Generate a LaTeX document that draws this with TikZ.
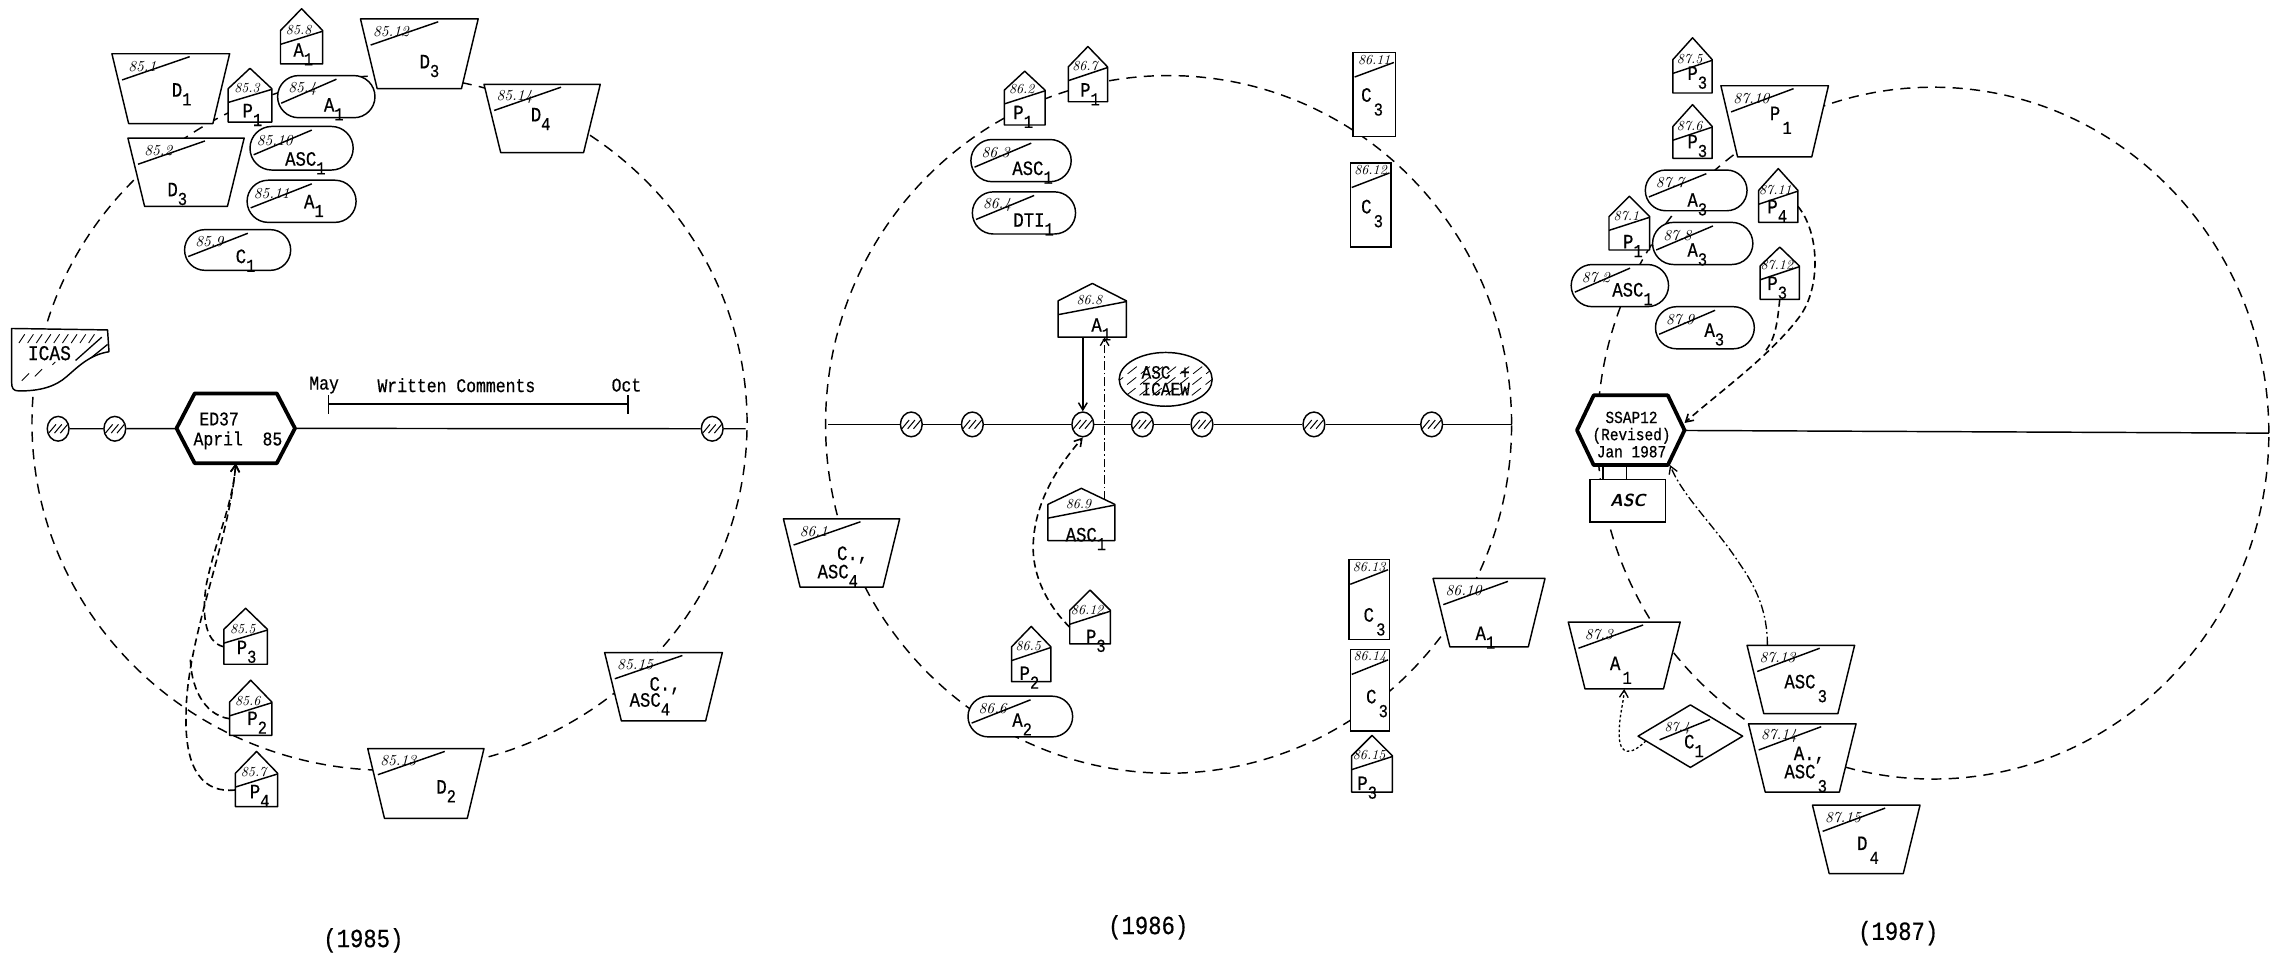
\documentclass[tikz,border=0pt]{standalone}
\usepackage{fontspec}
\setmonofont{Liberation Mono}[FakeStretch=0.85, FakeBold=0.5]
\usetikzlibrary{shapes.geometric,shapes.misc,calc,arrows.meta}
\newcommand\lsub[1]{\raisebox{-6pt}{\fontsize{12.5}{12.5}\selectfont#1}}
\newcommand\dsub[1]{\hspace{1.5pt}\raisebox{-9.5pt}{\fontsize{12.5}{12.5}\selectfont#1}}
\tikzset{
 shp/.style={draw, fill=white, line width=1pt, line join=round},
 abox/.style={draw=none, fill=none, rectangle, inner sep=0pt, outer sep=0pt},
 pillbox/.style={rounded rectangle, draw, fill=white, line width=1pt, inner sep=0pt, outer sep=0pt},
 slash/.style={line width=1pt},
 num/.style={font=\itshape\fontsize{10.5}{10.5}\selectfont, inner sep=0pt},
 snum/.style={font=\itshape\fontsize{9.5}{9.5}\selectfont, inner sep=0pt},
 lab/.style={font=\ttfamily\fontsize{14}{14}\selectfont, inner sep=0pt, anchor=base west},
 tw/.style={font=\ttfamily\fontsize{13.3}{13.8}\selectfont, inner sep=0pt},
 yearlab/.style={font=\ttfamily\fontsize{18}{18}\selectfont, inner sep=0pt},
 ring/.style={line width=1pt, dash pattern=on 7pt off 5pt},
 conn/.style={line width=1pt},
 arrowtip/.style={-{Straight Barb[length=5pt,width=6pt]}},
 flowline/.style={line width=1.1pt, dash pattern=on 5pt off 3pt},
 flow/.style={flowline, arrowtip},
 ddash/.style={line width=0.9pt, dash pattern=on 6pt off 2pt on 1.2pt off 2pt, arrowtip},
 dotflow/.style={line width=0.9pt, dash pattern=on 1.8pt off 1.6pt, arrowtip},
 hexb/.style={draw, fill=white, line width=2.6pt, line join=round},
 hdot/.style={ellipse, draw, fill=white, line width=1pt, minimum width=15pt, minimum height=17pt, inner sep=0pt,
   path picture={\foreach \k in {-4,0,4}{\draw[line width=0.7pt] ($(path picture bounding box.center)+(\k-2.5,3)$) -- ++(5,-6);}}},
}
% name, center, w, h, num, label, label offset
\newcommand\Trap[7]{%
 \node[abox, minimum width=#3pt, minimum height=#4pt] (#1) at (#2) {};
 \filldraw[shp] (#1.north west) -- (#1.north east) -- ([xshift=-11.5pt]#1.south east) -- ([xshift=11.5pt]#1.south west) -- cycle;
 \draw[slash] ($(#1.north west)+(7,18)$) -- ($(#1.north west)+(#3*0.5+13,2)$);
 \node[num] (#1-n) at ($(#1.north west)+(21,8.5)$) {#5};
 \node[lab] (#1-l) at ($(#1.center)+(#7)$) {#6};
}
% name, center, w, h, roof, num, label, label offset
\newcommand\House[8]{%
 \node[abox, minimum width=#3pt, minimum height=#4pt] (#1) at (#2) {};
 \filldraw[shp] (#1.south west) -- (#1.north west) -- ($(#1.north)+(0,-#5)$) -- (#1.north east) -- (#1.south east) -- cycle;
 \draw[slash] ($(#1.north west)+(0,9.5)$) -- ($(#1.north west)+(#3,0.5)$);
 \node[snum] (#1-n) at ($(#1.north west)+(#3*0.5-2,-0.5)$) {#6};
 \node[lab] (#1-l) at ($(#1.center)+(#8)$) {#7};
}
% name, center, w, h, num, label, label offset
\newcommand\Pill[7]{%
 \node[pillbox, minimum width=#3pt, minimum height=#4pt] (#1) at (#2) {};
 \draw[slash] ($(#1.center)+(-#3*0.5+2.5,4.5)$) -- ($(#1.center)+(7,-#4*0.5+2.5)$);
 \node[num] (#1-n) at ($(#1.center)+(-#3*0.5+17,-5.5)$) {#5};
 \node[lab] (#1-l) at ($(#1.center)+(#7)$) {#6};
}
\newcommand\Tall[7]{%
 \node[abox, draw, fill=white, line width=1pt, minimum width=#3pt, minimum height=#4pt] (#1) at (#2) {};
 \draw[slash] ($(#1.north west)+(1,17)$) -- ($(#1.north west)+(#3-1,7)$);
 \node[snum] (#1-n) at ($(#1.north west)+(#3*0.5,5)$) {#5};
 \node[lab] (#1-l) at ($(#1.center)+(#7)$) {#6};
}
% name, center, w, h, pointer depth
\newcommand\Hex[5]{%
 \node[abox, minimum width=#3pt, minimum height=#4pt] (#1) at (#2) {};
 \filldraw[hexb] (#1.west) -- ([xshift=#5pt]#1.north west) -- ([xshift=-#5pt]#1.north east) -- (#1.east) -- ([xshift=-#5pt]#1.south east) -- ([xshift=#5pt]#1.south west) -- cycle;
}
\begin{document}
\begin{tikzpicture}[x=1pt,y=-1pt]
\fill[white] (0,0) rectangle (1568,660);
\useasboundingbox (0,0) rectangle (1568,660);

% ---------- cycles ----------
\draw[ring] (268,291) ellipse [x radius=246pt, y radius=239pt];
\draw[ring] (804,292) ellipse [x radius=236pt, y radius=240pt];
\draw[ring] (1330,298) ellipse [x radius=231pt, y radius=238pt];

% ================= 1985 =================
\fill[white] (8,226) -- (74,227) -- (75,242) .. controls (62,244) and (54,252) .. (46,259) .. controls (38,266) and (28,269) .. (13,269) .. controls (9,269) and (8,267) .. (8,263) -- cycle;
\begin{scope}
 \clip (8,226) -- (74,227) -- (75,242) .. controls (62,244) and (54,252) .. (46,259) .. controls (38,266) and (28,269) .. (13,269) .. controls (9,269) and (8,267) .. (8,263) -- cycle;
 \foreach \x in {13,19,...,61} {\draw[line width=0.6pt] (\x,236) -- ++(4,-6);}
 \draw[line width=0.9pt] (52,248) -- (70,232) (58,250) -- (74,237);
 \draw[line width=0.6pt] (15,262) -- (20,257) (24,259) -- (29,254) (36,251) -- (38,249);
\end{scope}
\draw[line width=1pt, line join=round] (8,226) -- (74,227) -- (75,242) .. controls (62,244) and (54,252) .. (46,259) .. controls (38,266) and (28,269) .. (13,269) .. controls (9,269) and (8,267) .. (8,263) -- cycle;
\node[font=\ttfamily\fontsize{14.5}{14.5}\selectfont, inner sep=0pt] (icas) at (34,243) {ICAS};

\node[hdot] (c11) at (40,295) {};
\node[hdot] (c12) at (79,295) {};
\node[hdot] (c13) at (490,295) {};
\coordinate (r1e) at (513,295);
\Hex{ed37}{162.2,294.7}{81.5}{48}{12.5}
\node[tw, align=left] (ed37-t) at (163.7,296.5) {\hspace*{4pt}ED37\\April\ \ 85};
\draw[conn] (c11) -- (c12) (c12) -- (ed37) (ed37) -- (c13) (c13) -- (r1e);

\coordinate (bl) at (226,278);
\coordinate (br) at (432,278);
\draw[line width=0.9pt] (bl) -- (br) ([yshift=6pt]bl) -- ([yshift=-7pt]bl) ([yshift=6pt]br) -- ([yshift=-7pt]br);
\node[tw] (tmay) at (223,265) {May};
\node[tw] (twc) at (314,265) {Written Comments};
\node[tw] (toct) at (431,265) {Oct};

\Trap{d11}{117.5,61}{81}{48}{85.1}{D\lsub{1}}{0.5,5.5}
\Trap{d112}{288.5,37}{81}{48}{85.12}{D\lsub{3}}{0,10}
\Trap{d414}{373,81.5}{80}{47}{85.14}{D\lsub{4}}{-8,2}
\Trap{d32}{128,118.5}{80}{47}{85.2}{D\lsub{3}}{-13,16.5}
\House{a18}{207.5,32.5}{29}{23}{15}{85.8}{A\lsub{1}}{-5.8,6.5}
\House{p13}{172,72.5}{30}{23}{14}{85.3}{P\lsub{1}}{-5.3,8.2}
\Pill{a14}{224.5,66.5}{67}{29}{85.4}{A\lsub{1}}{-1.8,10.3}
\Pill{asc110}{207.5,102}{71}{30}{85.10}{ASC\lsub{1}}{-11.5,12}
\Pill{a111}{207.5,138.5}{75}{29}{85.11}{A\lsub{1}}{1.5,4.8}
\Pill{c19}{163.5,172}{73}{28}{85.9}{C\lsub{1}}{-1.5,9}

\House{p35}{169,445}{30}{24}{14.5}{85.5}{P\lsub{3}}{-6.3,5}
\House{p26}{172.5,494.5}{29}{23}{15}{85.6}{P\lsub{2}}{-2.5,4.3}
\House{p47}{176.5,543.5}{29}{23}{15}{85.7}{P\lsub{4}}{-4.8,5.7}
\Trap{d213}{293,539}{80}{48}{85.13}{D\lsub{2}}{7,7}
\Trap{ca415}{456.5,472.5}{81}{47}{85.15}{C.,}{-9.8,2.7}
\node[lab] (ca415-l2) at ($(ca415.center)+(-23.5,13.7)$) {ASC\lsub{4}};

\draw[flow] (p47.west) .. controls (140,546) and (127,530) .. (128,492) .. controls (128,440) and (158,372) .. (ed37.south);
\draw[flowline] (p26.west) .. controls (140,492) and (131,472) .. (131,452);
\draw[flow] (p35.west) .. controls (140,442) and (139,420) .. (142,402) .. controls (148,372) and (160,348) .. (ed37.south);

\node[yearlab] (y85) at (250,647) {(1985)};

% ================= 1986 =================
\coordinate (r2s) at (570,292);
\coordinate (r2e) at (1040,292);
\node[hdot] (c21) at (627,292) {};
\node[hdot] (c22) at (669,292) {};
\node[hdot] (c23) at (745,292) {};
\node[hdot] (c24) at (786,292) {};
\node[hdot] (c25) at (827,292) {};
\node[hdot] (c26) at (904,292) {};
\node[hdot] (c27) at (985,292) {};
\draw[conn] (r2s) -- (c21) (c21) -- (c22) (c22) -- (c23) (c23) -- (c24) (c24) -- (c25) (c25) -- (c26) (c26) -- (c27) (c27) -- (r2e);

\House{p22}{705,74}{28}{24}{13}{86.2}{P\lsub{1}}{-8,8}
\House{p27}{748.5,58}{27}{24}{14}{86.7}{P\lsub{1}}{-5.5,8.5}
\Pill{asc23}{702.5,110.5}{69}{29}{86.3}{ASC\lsub{1}}{-6.2,9.9}
\Pill{dti24}{704.5,146.5}{71}{29}{86.4}{DTI\lsub{1}}{-7.5,9.5}
\Tall{c211}{945.5,65}{29}{58}{86.11}{C\dsub{3}}{-9.2,5}
\Tall{c212}{943,141}{28}{58}{86.12}{C\dsub{3}}{-6.7,5.8}
\House{a28}{751.5,219.5}{47}{25}{12}{86.8}{A\lsub{1}}{-0.8,8.7}
\node[ellipse, draw, fill=white, line width=1pt, minimum width=64pt, minimum height=37pt, inner sep=0pt,
  path picture={\foreach \k in {-40,-31,...,40}{\draw[line width=0.55pt, dash pattern=on 8pt off 4pt] ($(path picture bounding box.center)+(\k-14,11)$) -- ++(28,-22);}}] (icaew) at (802,261) {};
\node[font=\ttfamily\fontsize{13}{11.5}\selectfont, align=center, inner sep=0pt] (icaew-t) at (802,262) {ASC +\\ICAEW};
\House{asc29}{744,359.5}{46}{25}{11}{86.9}{ASC\lsub{1}}{-11,13}
\House{p312}{750,431.5}{28}{23}{14}{86.12}{P\lsub{3}}{-3,11}
\House{p25}{709.5,457}{27}{24}{14}{86.5}{P\lsub{2}}{-8.2,10.8}
\Pill{a26}{702,493}{72}{28}{86.6}{A\lsub{2}}{-5.7,7}
\Trap{ca41}{579,380.5}{80}{47}{86.1}{C.,}{-3.3,4.8}
\node[lab] (ca41-l2) at ($(ca41.center)+(-16.7,17.4)$) {ASC\lsub{4}};
\Tall{c213}{942,412.5}{28}{55}{86.13}{C\dsub{3}}{-4,15.2}
\Tall{c214}{942.5,475}{27}{56}{86.14}{C\dsub{3}}{-2.8,8.9}
\House{p315}{944,532.5}{28}{25}{14}{86.15}{P\lsub{3}}{-10.3,11}
\Trap{a110}{1024.5,421.5}{77}{47}{86.10}{A\lsub{1}}{-9.5,18.8}

\draw[conn, arrowtip] (a28.south -| c23.north) -- (c23.north);
\draw[ddash] ([xshift=39pt,yshift=3pt]asc29.north west) -- ([xshift=8.5pt]a28.south);
\draw[flow] (p312.west) .. controls (724,420) and (709,398) .. (711,372) .. controls (713,340) and (733,315) .. (c23.south);

\node[yearlab] (y86) at (790,638) {(1986)};

% ================= 1987 =================
\coordinate (r3e) at (1561,298);
\Hex{ssap}{1122,296}{74}{48}{11.5}
\node[font=\ttfamily\fontsize{11.7}{11.8}\selectfont, align=center, inner sep=0pt] (ssap-t) at (1122.5,299) {SSAP12\\(Revised)\\Jan 1987};
\draw[conn] (ssap) -- (r3e);
\node[draw, fill=white, line width=1pt, minimum width=52pt, minimum height=29pt, inner sep=0pt, font=\sffamily\bfseries\itshape\fontsize{12}{12}\selectfont] (ascb) at (1120,344.5) {ASC};
\draw[conn] ([xshift=-19pt]ssap.south) -- ([xshift=-19pt]ssap.south |- ascb.north) ([xshift=-3pt]ssap.south) -- ([xshift=-3pt]ssap.south |- ascb.north);

\House{p35b}{1164.5,52.5}{27}{23}{15}{87.5}{P\lsub{3}}{-3.7,2.5}
\House{p36}{1164.5,98}{27}{22}{15}{87.6}{P\lsub{3}}{-3.7,4}
\Trap{p110}{1221,83.5}{74}{49}{87.10}{P\dsub{1}}{-3.5,-0.9}
\Pill{a37}{1167,131}{70}{28}{87.7}{A\lsub{3}}{-6.2,11.2}
\House{p411}{1223.5,142}{27}{22}{15}{87.11}{P\lsub{4}}{-7.7,4.8}
\House{p11}{1121,160.5}{28}{23}{14}{87.1}{P\lsub{1}}{-4.5,10.4}
\Pill{a38}{1171.5,167.5}{69}{29}{87.8}{A\lsub{3}}{-10.7,9.1}
\House{p312b}{1224.5,194.5}{27}{23}{13}{87.12}{P\lsub{3}}{-8.7,5}
\Pill{asc12}{1114.5,196.5}{67}{29}{87.2}{ASC\lsub{1}}{-5.4,7.5}
\Pill{a39}{1173,225.5}{68}{29}{87.9}{A\lsub{3}}{-0.5,6.2}

\Trap{a13}{1117.5,451}{77}{46}{87.3}{A\dsub{1}}{-10,10}
\Trap{asc313}{1239,467.5}{74}{47}{87.13}{ASC\dsub{3}}{-11.5,6.1}
\Trap{aasc314}{1240,521.5}{74}{47}{87.14}{A.,}{-6,1.4}
\node[lab] (aasc314-l2) at ($(aasc314.center)+(-12.5,14)$) {ASC\dsub{3}};
\Trap{d415}{1284,577.5}{74}{47}{87.15}{D\dsub{4}}{-6.5,7.3}
\node[abox, minimum width=72pt, minimum height=43pt] (c14) at (1163,506.5) {};
\filldraw[shp] (c14.west) -- (c14.north) -- (c14.east) -- (c14.south) -- cycle;
\draw[slash] ($(c14.center)+(-21.2,2.5)$) -- ($(c14.center)+(13.5,-11.5)$);
\node[snum] (c14-n) at ($(c14.center)+(-9,-5.5)$) {87.4};
\node[lab] (c14-l) at ($(c14.center)+(-4.5,8.4)$) {C\lsub{1}};

\draw[flow] (p411.east) .. controls (1252,160) and (1253,198) .. (1238,218) .. controls (1218,245) and (1180,272) .. ([yshift=5pt]ssap.east);
\draw[flowline] (p312b.south) .. controls (1223,220) and (1222,232) .. (1215,241);
\draw[ddash] ([xshift=-23pt]asc313.north) .. controls (1216,420) and (1208,404) .. (1197,388) .. controls (1180,362) and (1158,342) .. ([xshift=-10pt]ssap.south east);
\draw[dotflow] ($(c14.west)!0.15!(c14.south)$) .. controls (1122,520) and (1114,520) .. (1114,505) .. controls (1114,492) and (1117,484) .. (a13.south);

\node[yearlab] (y87) at (1306,642) {(1987)};
\end{tikzpicture}
\end{document}
